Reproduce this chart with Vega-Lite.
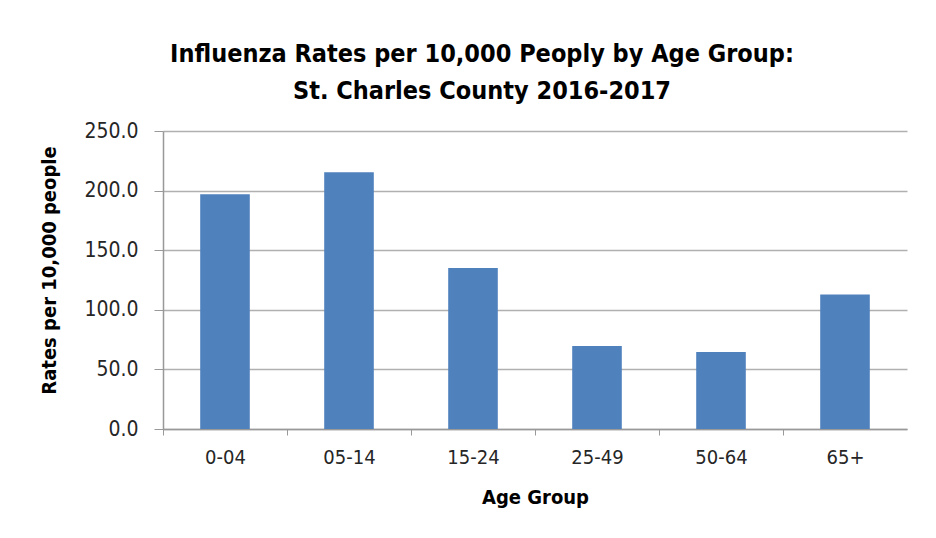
{
  "$schema": "https://vega.github.io/schema/vega-lite/v6.json",
  "width": 744,
  "height": 298,
  "autosize": {"type": "none"},
  "padding": {"left": 163, "top": 131, "right": 29, "bottom": 109},
  "background": "white",
  "title": {
    "text": ["Influenza Rates per 10,000 Peoply by Age Group:", "St. Charles County 2016-2017"],
    "font": "DejaVu Sans Condensed, Open Sans, sans-serif",
    "fontSize": 25,
    "fontWeight": "bold",
    "color": "#000000",
    "lineHeight": 37,
    "anchor": "middle",
    "dx": -53,
    "offset": 16
  },
  "data": {
    "values": [
      {"age": "0-04", "rate": 197.0},
      {"age": "05-14", "rate": 215.4},
      {"age": "15-24", "rate": 135.0},
      {"age": "25-49", "rate": 69.6},
      {"age": "50-64", "rate": 64.5},
      {"age": "65+", "rate": 112.9}
    ]
  },
  "mark": {"type": "bar", "color": "#4F81BD"},
  "encoding": {
    "x": {
      "field": "age",
      "type": "nominal",
      "sort": null,
      "scale": {"paddingInner": 0.6, "paddingOuter": 0.3},
      "axis": {
        "title": "Age Group",
        "labelAngle": 0,
        "tickOffset": -62,
        "labelOffset": 62,
        "tickSize": 6,
        "tickColor": "#999999",
        "domainColor": "#999999",
        "labelPadding": 12,
        "titlePadding": 20
      }
    },
    "y": {
      "field": "rate",
      "type": "quantitative",
      "scale": {"domain": [0, 250]},
      "axis": {
        "title": "Rates per 10,000 people",
        "values": [0, 50, 100, 150, 200, 250],
        "format": ".1f",
        "grid": true,
        "gridColor": "#b0b0b0",
        "tickSize": 9,
        "tickColor": "#999999",
        "domainColor": "#999999",
        "labelPadding": 16,
        "labelFontSize": 21,
        "titlePadding": 24,
        "titleY": 139
      }
    }
  },
  "config": {
    "view": {"stroke": null},
    "axis": {
      "labelFont": "DejaVu Sans Condensed, Open Sans, sans-serif",
      "labelFontSize": 20,
      "labelColor": "#262626",
      "titleFont": "DejaVu Sans Condensed, Open Sans, sans-serif",
      "titleFontSize": 20,
      "titleFontWeight": "bold",
      "titleColor": "#000000",
      "gridWidth": 1.5,
      "domainWidth": 1.5
    }
  }
}
